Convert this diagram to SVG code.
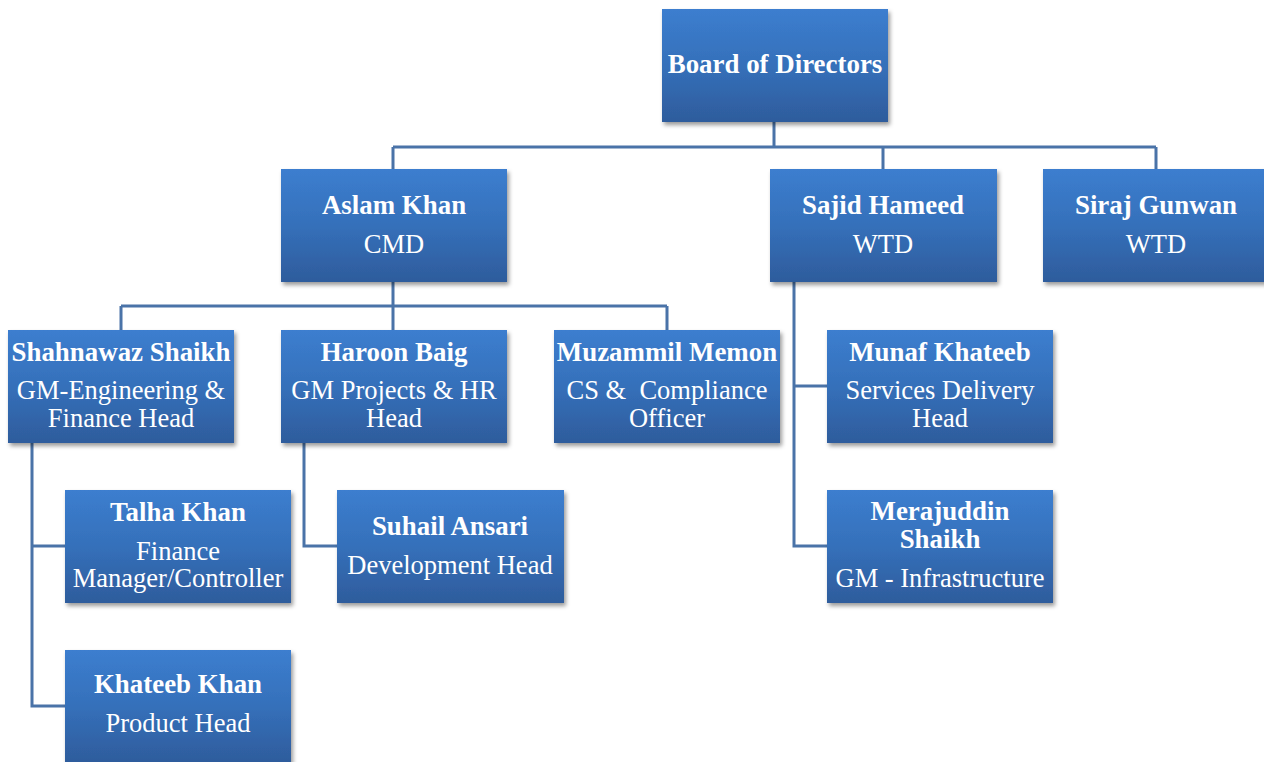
<svg xmlns="http://www.w3.org/2000/svg" width="1264" height="762" viewBox="0 0 1264 762">
<defs>
<linearGradient id="bg" x1="0" y1="0" x2="0" y2="1">
<stop offset="0" stop-color="#3C7ECF"/>
<stop offset="0.5" stop-color="#3570BA"/>
<stop offset="1" stop-color="#2E5C9C"/>
</linearGradient>
<filter id="sh" x="-10%" y="-10%" width="125%" height="130%">
<feDropShadow dx="2" dy="3" stdDeviation="2" flood-color="#000" flood-opacity="0.4"/>
</filter>
</defs>
<style>
.box{fill:url(#bg);filter:url(#sh);}
text{font-family:"Liberation Serif","Times New Roman",serif;font-size:26.5px;fill:#fff;text-anchor:middle;}
.n{font-weight:bold;font-size:26.9px;}
.c{fill:none;stroke:#4A73A8;stroke-width:3;}
</style>
<rect width="1264" height="762" fill="#fff"/>
<g id="connectors">
<path class="c" d="M774,122 V147 M393,147 H1156 M393,147 V169 M883,147 V169 M1156,147 V169"/>
<path class="c" d="M393,282 V306 M121,306 H667 M121,306 V330 M393,306 V330 M667,306 V330"/>
<path class="c" d="M32,442 V706 H65 M32,546 H65"/>
<path class="c" d="M304,442 V546 H337"/>
<path class="c" d="M794,282 V546 H827 M794,386 H827"/>
</g>
<g id="board"><rect class="box" x="662" y="9" width="226" height="113"/><text class="n" x="775" y="73">Board of Directors</text></g>
<g id="aslam"><rect class="box" x="281" y="169" width="226" height="113"/><text class="n" x="394" y="214">Aslam Khan</text><text x="394" y="253">CMD</text></g>
<g id="sajid"><rect class="box" x="770" y="169" width="227" height="113"/><text class="n" x="883" y="214">Sajid Hameed</text><text x="883" y="253">WTD</text></g>
<g id="siraj"><rect class="box" x="1043" y="169" width="226" height="113"/><text class="n" x="1156" y="214">Siraj Gunwan</text><text x="1156" y="253">WTD</text></g>
<g id="shahnawaz"><rect class="box" x="8" y="330" width="226" height="113"/><text class="n" x="121" y="361">Shahnawaz Shaikh</text><text x="121" y="399">GM-Engineering &amp;</text><text x="121" y="427">Finance Head</text></g>
<g id="haroon"><rect class="box" x="281" y="330" width="226" height="113"/><text class="n" x="394" y="361">Haroon Baig</text><text x="394" y="399">GM Projects &amp; HR</text><text x="394" y="427">Head</text></g>
<g id="muzammil"><rect class="box" x="554" y="330" width="226" height="113"/><text class="n" x="667" y="361">Muzammil Memon</text><text x="667" y="399" xml:space="preserve">CS &amp;  Compliance</text><text x="667" y="427">Officer</text></g>
<g id="munaf"><rect class="box" x="827" y="330" width="226" height="113"/><text class="n" x="940" y="361">Munaf Khateeb</text><text x="940" y="399">Services Delivery</text><text x="940" y="427">Head</text></g>
<g id="talha"><rect class="box" x="65" y="490" width="226" height="113"/><text class="n" x="178" y="521">Talha Khan</text><text x="178" y="560">Finance</text><text x="178" y="587">Manager/Controller</text></g>
<g id="suhail"><rect class="box" x="337" y="490" width="227" height="113"/><text class="n" x="450" y="535">Suhail Ansari</text><text x="450" y="574">Development Head</text></g>
<g id="merajuddin"><rect class="box" x="827" y="490" width="226" height="113"/><text class="n" x="940" y="520">Merajuddin</text><text class="n" x="940" y="548">Shaikh</text><text x="940" y="587">GM - Infrastructure</text></g>
<g id="khateeb"><rect class="box" x="65" y="650" width="226" height="113"/><text class="n" x="178" y="693">Khateeb Khan</text><text x="178" y="732">Product Head</text></g>
</svg>
